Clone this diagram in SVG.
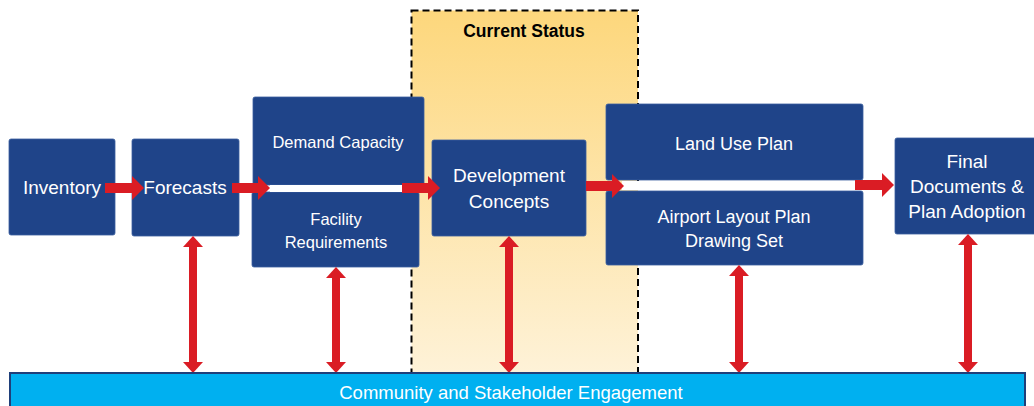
<svg xmlns="http://www.w3.org/2000/svg" width="1034" height="406" viewBox="0 0 1034 406">
<defs>
<linearGradient id="cs" x1="0" y1="0" x2="0" y2="1">
<stop offset="0" stop-color="#FDD77C"/>
<stop offset="1" stop-color="#FEF2D8"/>
</linearGradient>
<marker id="ah" markerUnits="userSpaceOnUse" markerWidth="12" markerHeight="24" refX="0" refY="12" orient="auto-start-reverse" viewBox="0 0 12 24">
<path d="M0,0 L12,12 L0,24 Z" fill="#DA1C24"/>
</marker>
<marker id="av" markerUnits="userSpaceOnUse" markerWidth="11" markerHeight="20" refX="0" refY="10" orient="auto-start-reverse" viewBox="0 0 11 20">
<path d="M0,0 L11,10 L0,20 Z" fill="#DA1C24"/>
</marker>
</defs>
<style>
.box{fill:#1F4489;stroke:#3A5E9E;stroke-width:0.8}
.t{font-family:"Liberation Sans",Arial,sans-serif;fill:#fff;text-anchor:middle}
.h{stroke:#DA1C24;stroke-width:10;marker-end:url(#ah)}
.v{stroke:#DA1C24;stroke-width:8;marker-start:url(#av);marker-end:url(#av)}
</style>
<g id="current-status">
<rect x="411.5" y="10.5" width="226.5" height="363" fill="url(#cs)" stroke="#000" stroke-width="2" stroke-dasharray="7,4"/>
<text x="524" y="37" font-family="Liberation Sans,Arial,sans-serif" font-weight="bold" font-size="17.5" text-anchor="middle" fill="#000">Current Status</text>
</g>
<g id="inventory">
<rect class="box" x="9" y="139" width="106" height="96" rx="2"/>
<text class="t" x="62" y="194" font-size="19">Inventory</text>
</g>
<g id="forecasts">
<rect class="box" x="132" y="139" width="107" height="97" rx="2"/>
<text class="t" x="185" y="194" font-size="19">Forecasts</text>
</g>
<g id="demand-capacity">
<rect class="box" x="253" y="97" width="171" height="88" rx="2"/>
<text class="t" x="338" y="148" font-size="16.5">Demand Capacity</text>
</g>
<g id="facility-requirements">
<rect class="box" x="252" y="192" width="167" height="75" rx="2"/>
<text class="t" x="336" y="225" font-size="16.5">Facility</text>
<text class="t" x="336" y="248" font-size="16.5">Requirements</text>
</g>
<g id="development-concepts">
<rect class="box" x="432" y="140" width="154" height="96" rx="2"/>
<text class="t" x="509" y="182" font-size="19">Development</text>
<text class="t" x="509" y="208" font-size="19">Concepts</text>
</g>
<g id="land-use-plan">
<rect class="box" x="606" y="104" width="257" height="76" rx="2"/>
<text class="t" x="734" y="150" font-size="18">Land Use Plan</text>
</g>
<g id="airport-layout-plan">
<rect class="box" x="606" y="191" width="257" height="74" rx="2"/>
<text class="t" x="734" y="223" font-size="18">Airport Layout Plan</text>
<text class="t" x="734" y="247" font-size="18">Drawing Set</text>
</g>
<g id="final-documents">
<rect class="box" x="895" y="138" width="146" height="96" rx="2"/>
<text class="t" x="967" y="168" font-size="19">Final</text>
<text class="t" x="967" y="193" font-size="19">Documents &amp;</text>
<text class="t" x="967" y="218" font-size="19">Plan Adoption</text>
</g>
<g id="connectors">
<rect x="270" y="185" width="132" height="7" fill="#fff"/>
<rect x="622" y="181" width="234" height="9" fill="#fff"/>
<line class="h" x1="105" y1="188" x2="132" y2="188"/>
<line class="h" x1="232" y1="188" x2="258" y2="188"/>
<line class="h" x1="402" y1="188" x2="428" y2="188"/>
<line class="h" x1="586" y1="186" x2="612" y2="186"/>
<line class="h" x1="855" y1="185" x2="882" y2="185"/>
<line class="v" x1="193" y1="247" x2="193" y2="362"/>
<line class="v" x1="336" y1="278" x2="336" y2="362"/>
<line class="v" x1="509" y1="247" x2="509" y2="362"/>
<line class="v" x1="739" y1="276" x2="739" y2="362"/>
<line class="v" x1="968" y1="245" x2="968" y2="362"/>
</g>
<g id="engagement">
<rect x="10" y="373" width="1015" height="40" fill="#00B0F0" stroke="#1F3F7A" stroke-width="2"/>
<text class="t" x="511" y="399" font-size="18.5">Community and Stakeholder Engagement</text>
</g>
</svg>
